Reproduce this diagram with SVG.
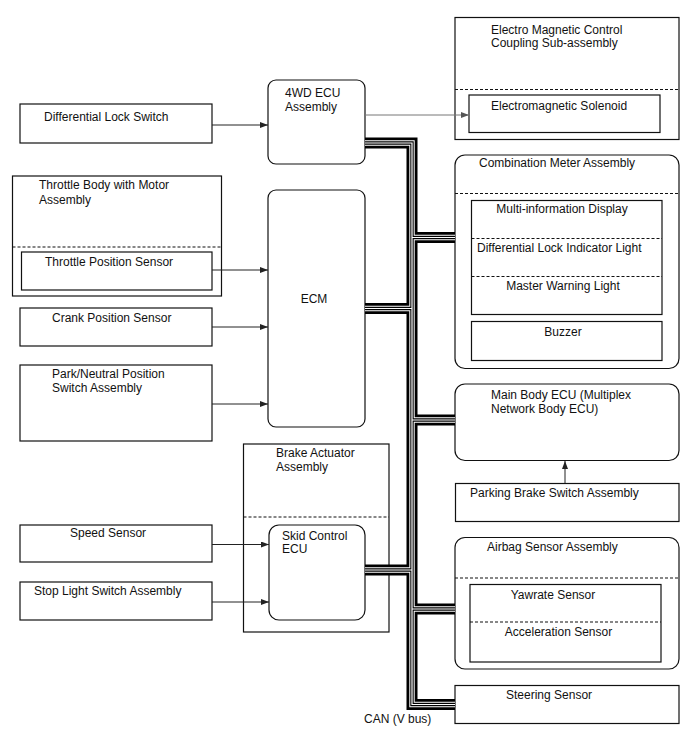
<svg xmlns="http://www.w3.org/2000/svg" width="688" height="755" viewBox="0 0 688 755">
<style>
text{font-family:"Liberation Sans",Arial,sans-serif;font-size:12px;fill:#111}
.box{fill:#fff;stroke:#111;stroke-width:1.2}
.in{fill:none;stroke:#111;stroke-width:1.2}
.dash{stroke:#111;stroke-width:1.2;stroke-dasharray:3 2;fill:none}
.arr{stroke:#222;stroke-width:1;fill:none;marker-end:url(#ah)}
.arrg{stroke:#777;stroke-width:1;fill:none;marker-end:url(#ahg)}
.b1{stroke:#000;stroke-width:11;fill:none;stroke-linejoin:miter}
.b2{stroke:#fff;stroke-width:5.4;fill:none;stroke-linejoin:miter}
.b3{stroke:#000;stroke-width:3.4;fill:none;stroke-linejoin:miter}
.b4{stroke:#fff;stroke-width:1.2;fill:none;stroke-linejoin:miter}
.mid{text-anchor:middle}
</style>
<defs>
<marker id="ah" markerWidth="8" markerHeight="6" refX="8" refY="3" orient="auto" markerUnits="userSpaceOnUse"><path d="M0,0 L8,3 L0,6 z" fill="#222"/></marker>
<marker id="ahg" markerWidth="8" markerHeight="6" refX="8" refY="3" orient="auto" markerUnits="userSpaceOnUse"><path d="M0,0 L8,3 L0,6 z" fill="#555"/></marker>
<path id="bus" d="M365,143 H412 V704.5 H455 M412,237.5 H455 M365,308.5 H412 M412,420 H455 M365,570 H412 M412,609 H455"/>
</defs>
<rect width="688" height="755" fill="#fff"/>
<g id="diff-lock-switch">
<rect class="box" x="20" y="104" width="192" height="39"/>
<text x="44" y="121">Differential Lock Switch</text>
</g>
<g id="throttle-body">
<rect class="box" x="12.5" y="176" width="209" height="120"/>
<text x="39" y="189">Throttle Body with Motor</text>
<text x="39" y="204">Assembly</text>
<line class="dash" x1="12.5" y1="247" x2="221.5" y2="247"/>
<g id="throttle-position-sensor">
<rect class="in" x="21.5" y="252" width="190.5" height="38"/>
<text x="45" y="266">Throttle Position Sensor</text>
</g>
</g>
<g id="crank-position-sensor">
<rect class="box" x="20" y="308" width="192" height="38"/>
<text x="52" y="322">Crank Position Sensor</text>
</g>
<g id="park-neutral">
<rect class="box" x="20" y="365" width="192" height="76"/>
<text x="52" y="378">Park/Neutral Position</text>
<text x="52" y="392">Switch Assembly</text>
</g>
<g id="speed-sensor">
<rect class="box" x="20" y="525" width="192" height="37"/>
<text x="70" y="537">Speed Sensor</text>
</g>
<g id="stop-light-switch">
<rect class="box" x="20" y="582" width="192" height="38"/>
<text x="34" y="595">Stop Light Switch Assembly</text>
</g>
<g id="ecu-4wd">
<rect class="box" x="268" y="80" width="97" height="84" rx="8"/>
<text x="285" y="97">4WD ECU</text>
<text x="285" y="111">Assembly</text>
</g>
<g id="ecm">
<rect class="box" x="268" y="190" width="97" height="237" rx="8"/>
<text x="314" y="303" class="mid">ECM</text>
</g>
<g id="brake-actuator">
<rect class="box" x="243.5" y="444" width="145.5" height="188"/>
<text x="276" y="457">Brake Actuator</text>
<text x="276" y="471">Assembly</text>
<line class="dash" x1="243.5" y1="517" x2="389" y2="517"/>
<g id="skid-control-ecu">
<rect class="box" x="269" y="525" width="96" height="95" rx="10"/>
<text x="282" y="540">Skid Control</text>
<text x="282" y="553">ECU</text>
</g>
</g>
<g id="electro-coupling">
<rect class="box" x="455" y="17.5" width="224" height="122"/>
<text x="491" y="34">Electro Magnetic Control</text>
<text x="491" y="47">Coupling Sub-assembly</text>
<line class="dash" x1="455" y1="89.5" x2="679" y2="89.5"/>
<g id="electromagnetic-solenoid">
<rect class="in" x="469" y="95" width="191" height="37.5"/>
<text x="491" y="110">Electromagnetic Solenoid</text>
</g>
</g>
<g id="combination-meter">
<rect class="box" x="455" y="155" width="224" height="213.5" rx="10"/>
<text x="479" y="167">Combination Meter Assembly</text>
<line class="dash" x1="455" y1="193.5" x2="679" y2="193.5"/>
<rect class="in" x="471.5" y="200.5" width="190.5" height="114"/>
<text x="562" y="213" class="mid">Multi-information Display</text>
<line class="dash" x1="471.5" y1="238.5" x2="662" y2="238.5"/>
<text x="477" y="251.5">Differential Lock Indicator Light</text>
<line class="dash" x1="471.5" y1="276.5" x2="662" y2="276.5"/>
<text x="563" y="290" class="mid">Master Warning Light</text>
<g id="buzzer">
<rect class="in" x="471.5" y="321.5" width="190.5" height="39"/>
<text x="563" y="335.5" class="mid">Buzzer</text>
</g>
</g>
<g id="main-body-ecu">
<rect class="box" x="455" y="384" width="224" height="76.5" rx="10"/>
<text x="491" y="399">Main Body ECU (Multiplex</text>
<text x="491" y="413">Network Body ECU)</text>
</g>
<g id="parking-brake-switch">
<rect class="box" x="455.5" y="483.5" width="223.5" height="38"/>
<text x="470" y="497">Parking Brake Switch Assembly</text>
</g>
<g id="airbag-sensor">
<rect class="box" x="455" y="537.5" width="224" height="131.5" rx="10"/>
<text x="487" y="551">Airbag Sensor Assembly</text>
<line class="dash" x1="455" y1="578" x2="679" y2="578"/>
<rect class="in" x="470" y="584.5" width="191" height="77.5"/>
<text x="553" y="599" class="mid">Yawrate Sensor</text>
<line class="dash" x1="470" y1="622" x2="661" y2="622"/>
<text x="558.5" y="636" class="mid">Acceleration Sensor</text>
</g>
<g id="steering-sensor">
<rect class="box" x="455" y="685.5" width="224" height="38"/>
<text x="506" y="699">Steering Sensor</text>
</g>
<g id="connectors">
<use href="#bus" class="b1"/>
<use href="#bus" class="b2"/>
<use href="#bus" class="b3"/>
<use href="#bus" class="b4"/>
<line class="arr" x1="212" y1="125" x2="268" y2="125"/>
<line class="arrg" x1="365" y1="115" x2="469" y2="115"/>
<line class="arr" x1="212" y1="270" x2="268" y2="270"/>
<line class="arr" x1="212" y1="327" x2="268" y2="327"/>
<line class="arr" x1="212" y1="404" x2="268" y2="404"/>
<line class="arr" x1="212" y1="544.5" x2="269" y2="544.5"/>
<line class="arr" x1="212" y1="602" x2="269" y2="602"/>
<line class="arr" x1="565" y1="483" x2="565" y2="461"/>
<text x="364" y="723">CAN (V bus)</text>
</g>
</svg>
